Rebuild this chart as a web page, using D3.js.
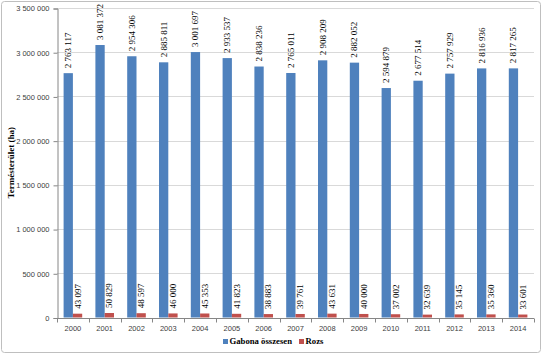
<!DOCTYPE html>
<html><head><meta charset="utf-8">
<script src="https://cdn.jsdelivr.net/npm/d3@7"></script>
<style>
html,body{margin:0;padding:0;background:#fff;}
svg{display:block;}
</style>
</head><body>
<svg id="chart" width="543" height="355"></svg>
<script>
const years = ["2000","2001","2002","2003","2004","2005","2006","2007","2008","2009","2010","2011","2012","2013","2014"];
const gabona = [2763117,3081372,2954306,2885811,3001697,2933537,2838236,2765011,2908209,2882052,2594879,2677514,2757929,2816936,2817265];
const rozs = [43097,50829,48597,46000,45353,41823,38883,39761,43631,40000,37002,32639,35145,35360,33601];
const yTicks = [0,500000,1000000,1500000,2000000,2500000,3000000,3500000];
const seriesNames = ["Gabona összesen","Rozs"];
const seriesColors = ["#4f81bd","#c0504d"];
const yTitle = "Termésterület (ha)";

const svg = d3.select("#chart");
const x0 = 57, x1 = 534, yTop = 8, yBot = 317.5;

const loc = d3.formatLocale({decimal:",", thousands:"\u00a0", grouping:[3], currency:["",""]});
const fmt = loc.format(",d");

svg.append("rect").attr("x",1.5).attr("y",1.5).attr("width",539).attr("height",351)
  .attr("rx",3).attr("fill","#fff").attr("stroke","#bfbfbf").attr("stroke-width",1);

const x = d3.scaleBand().domain(years).range([x0,x1]).paddingInner(0).paddingOuter(0);
const y = d3.scaleLinear().domain([0,3500000]).range([yBot,yTop]);
const bw = 9.3;

// gridlines
svg.append("g").selectAll("line").data(yTicks.filter(d=>d>0)).join("line")
  .attr("x1",x0).attr("x2",x1).attr("y1",d=>Math.round(y(d))+0.5).attr("y2",d=>Math.round(y(d))+0.5)
  .attr("stroke","#d9d9d9").attr("stroke-width",1);

// y axis
const yAxis = d3.axisLeft(y).tickValues(yTicks).tickFormat(fmt).tickSize(4).tickPadding(4);
const gy = svg.append("g").attr("transform",`translate(${x0+0.5},0.5)`).call(yAxis);
gy.select(".domain").attr("stroke","#868686");
gy.selectAll(".tick line").attr("stroke","#868686");
gy.selectAll(".tick text").attr("font-family","Liberation Sans Narrow, Liberation Sans, sans-serif")
  .attr("font-size","7.5px").attr("fill","#404040");

// x axis
const gx = svg.append("g").attr("transform",`translate(0,${Math.round(yBot)+0.5})`);
gx.append("line").attr("x1",x0).attr("x2",x1).attr("stroke","#868686");
const bounds = years.map(d=>x(d)).concat([x1]);
gx.selectAll("line.t").data(bounds).join("line").attr("class","t")
  .attr("x1",d=>Math.round(d)+0.5).attr("x2",d=>Math.round(d)+0.5).attr("y1",0).attr("y2",4)
  .attr("stroke","#868686");
gx.selectAll("text").data(years).join("text")
  .attr("x",d=>x(d)+x.bandwidth()/2).attr("y",12.5).attr("text-anchor","middle")
  .attr("font-family","Liberation Sans Narrow, Liberation Sans, sans-serif")
  .attr("font-size","7.5px").attr("fill","#404040").text(d=>d);

// bars
const series = [gabona, rozs];
series.forEach((vals,si)=>{
  const g = svg.append("g");
  g.selectAll("rect").data(vals).join("rect")
    .attr("x",(d,i)=>x(years[i])+x.bandwidth()/2 - bw + si*bw)
    .attr("width",bw)
    .attr("y",d=>y(d)).attr("height",d=>yBot-y(d))
    .attr("fill",seriesColors[si]);
  g.selectAll("text").data(vals).join("text")
    .attr("transform",(d,i)=>{
      const cx = x(years[i])+x.bandwidth()/2 - bw + si*bw + bw/2;
      return `translate(${cx+3},${y(d)-5}) rotate(-90)`;
    })
    .attr("text-anchor","start")
    .attr("font-family","Liberation Serif, Times New Roman, serif")
    .attr("font-size","9px").attr("fill","#000")
    .text(d=>fmt(d));
});

// y title
svg.append("text").attr("transform",`translate(14,${(yTop+yBot)/2}) rotate(-90)`)
  .attr("text-anchor","middle").attr("font-family","Liberation Serif, Times New Roman, serif")
  .attr("font-weight","bold").attr("font-size","9px").text(yTitle);

// legend
const lg = svg.append("g").attr("transform","translate(223,344)");
let lx = 0;
seriesNames.forEach((n,i)=>{
  const gi = lg.append("g").attr("transform",`translate(${lx},0)`);
  gi.append("rect").attr("x",0).attr("y",-5).attr("width",5).attr("height",5).attr("fill",seriesColors[i]);
  const t = gi.append("text").attr("x",6.5).attr("y",0).attr("font-family","Liberation Serif, Times New Roman, serif")
    .attr("font-weight","bold").attr("font-size","8.7px").text(n);
  lx += 6.5 + t.node().getComputedTextLength() + 7;
});
</script>
</body></html>
